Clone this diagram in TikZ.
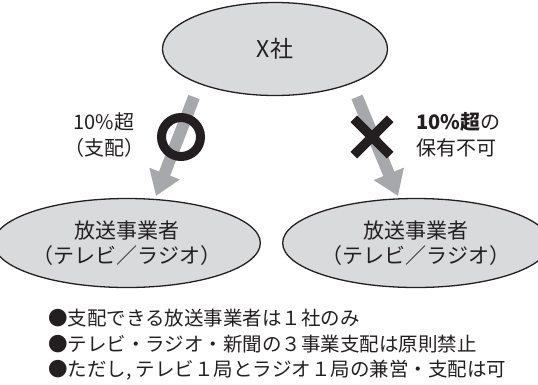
\documentclass[tikz,border=0pt]{standalone}
\usepackage{fontspec}
\setmainfont{Noto Sans CJK JP}
\usetikzlibrary{arrows.meta,shapes.geometric}
\definecolor{ellfill}{HTML}{D9DADC}
\definecolor{arrgray}{HTML}{A7A8AB}
\definecolor{ink}{HTML}{231F20}
\tikzset{
  ell/.style={ellipse, draw=ink, line width=1.3pt, fill=ellfill, inner sep=0pt, text=ink, align=center},
  bigarrow/.style={draw=arrgray, line width=12pt, -{Triangle[width=31pt,length=24pt,fill=arrgray]}},
  okmark/.style={circle, draw=ink, line width=9pt, minimum size=39pt, inner sep=0pt},
  ngline/.style={draw=ink, line width=9.5pt},
  lbl/.style={text=ink, inner sep=0pt, font=\fontsize{20}{26}\selectfont},
  bullet/.style={text=ink, inner sep=0pt, anchor=west, font=\fontsize{19.5}{24}\selectfont}
}
\begin{document}
\begin{tikzpicture}[x=1pt,y=-1pt]
\useasboundingbox (0,0) rectangle (538,384);
% arrows (behind)
\coordinate (la1) at (194,97);
\coordinate (la2) at (156,196);
\coordinate (ra1) at (357,97);
\coordinate (ra2) at (398,196);
\draw[bigarrow] (la1) -- (la2);
\draw[bigarrow] (ra1) -- (ra2);
% ellipses
\node[ell, minimum width=225pt, minimum height=93pt, font=\fontsize{23}{28}\selectfont] (xs) at (275,49) {X社};
\node[ell, minimum width=222pt, minimum height=89pt, font=\fontsize{21}{25.5}\selectfont] (bl) at (127,243) {放送事業者\\（テレビ／ラジオ）};
\node[ell, minimum width=222pt, minimum height=89pt, font=\fontsize{21}{25.5}\selectfont] (br) at (416,243) {放送事業者\\（テレビ／ラジオ）};
% marks
\node[okmark] (ok) at (181,137) {};
\node[minimum size=36pt, inner sep=0pt] (ng) at (372,137) {};
\draw[ngline] (ng.north west) -- (ng.south east);
\draw[ngline] (ng.north east) -- (ng.south west);
% labels
\node[lbl, align=center] (ltxt) at (104,135) {10\%超\\（支配）};
\node[lbl, align=left, anchor=west] (rtxt) at (416,135) {\textbf{10\%超}の\\保有不可};
% bullets
\node[bullet] (b1) at (48,318) {●支配できる放送事業者は１社のみ};
\node[bullet] (b2) at (48,344) {●テレビ・ラジオ・新聞の３事業支配は原則禁止};
\node[bullet] (b3) at (48,370) {●ただし, テレビ１局とラジオ１局の兼営・支配は可};
\end{tikzpicture}
\end{document}
